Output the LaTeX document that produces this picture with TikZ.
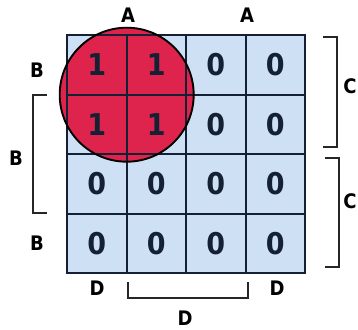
\documentclass[tikz,border=0pt]{standalone}
\usepackage{fontspec}
\newfontfamily\kmapfont{DejaVu Sans Condensed}
\usetikzlibrary{positioning}
\definecolor{cellblue}{RGB}{206,225,244}
\definecolor{gridnavy}{RGB}{20,32,52}
\definecolor{blobred}{RGB}{222,36,76}

\begin{document}
\begin{tikzpicture}[x=1pt,y=-1pt]
  \tikzset{
    cell/.style={minimum size=59.5pt, inner sep=0pt, fill=cellblue},
    gridline/.style={draw=gridnavy, line width=1.7pt},
    digit/.style={font=\kmapfont\bfseries\fontsize{30}{30}\selectfont, text=gridnavy},
    varname/.style={font=\kmapfont\bfseries\fontsize{20}{20}\selectfont},
    bracket/.style={draw=black!85, line width=1.4pt},
  }
  \useasboundingbox (0,0) rectangle (358,329);

  % cells
  \foreach \r in {1,...,4}
    \foreach \c in {1,...,4}
      \node[cell] (k\r\c) at ({37.25+59.5*\c},{5.25+59.5*\r}) {};

  % the loop round the four ones
  \fill[blobred] (k11.south east) circle (67pt);

  % grid
  \draw[gridline] (k11.north west) rectangle (k44.south east);
  \foreach \i in {1,2,3} {
    \draw[gridline] (k1\i.north east) -- (k4\i.south east);
    \draw[gridline] (k\i1.south west) -- (k\i4.south east);
  }
  \draw[black, line width=1.9pt] (k11.south east) circle (67pt);

  % entries
  \foreach \r/\c/\v in {1/1/1,1/2/1,1/3/0,1/4/0,
                        2/1/1,2/2/1,2/3/0,2/4/0,
                        3/1/0,3/2/0,3/3/0,3/4/0,
                        4/1/0,4/2/0,4/3/0,4/4/0}
    \node[digit] (d\r\c) at (k\r\c) {\v};

  % variable names
  \node[varname] (a1) at (128,15) {A};
  \node[varname] (a2) at (247,15) {A};
  \node[varname] (b1) at (37,70) {B};
  \node[varname] (b2) at (16,158) {B};
  \node[varname] (b3) at (37,243) {B};
  \node[varname] (c1) at (350,86) {C};
  \node[varname] (c2) at (350,201) {C};
  \node[varname] (d1) at (97,288) {D};
  \node[varname] (d2) at (185,318) {D};
  \node[varname] (d3) at (277,288) {D};

  % brackets
  \draw[bracket] (47,95) -- (33,95) -- (33,213) -- (47,213);
  \draw[bracket] (323,37) -- (337,37) -- (337,147) -- (323,147);
  \draw[bracket] (325,158) -- (339,158) -- (339,267) -- (325,267);
  \draw[bracket] (128,282) -- (128,298) -- (248,298) -- (248,282);
\end{tikzpicture}
\end{document}
